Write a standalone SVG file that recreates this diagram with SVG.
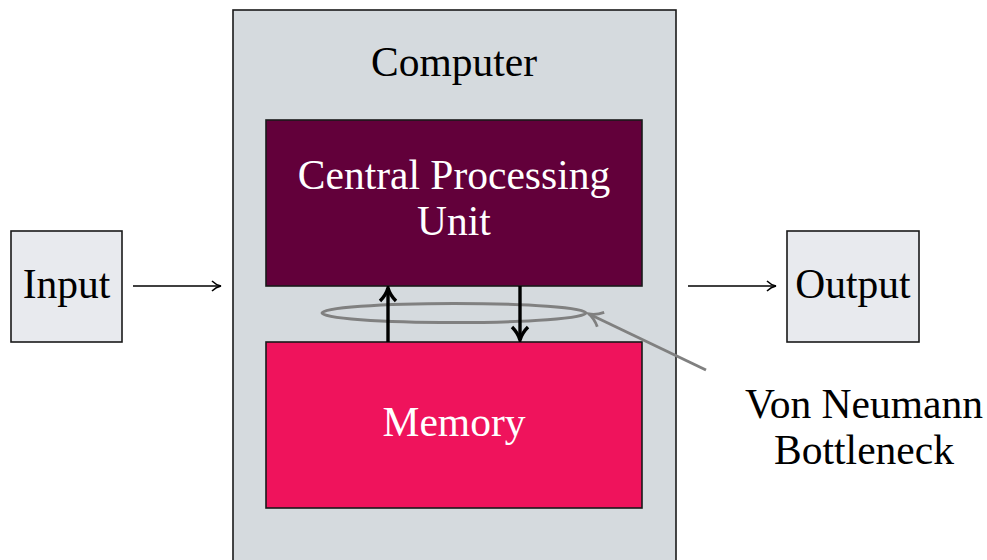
<svg xmlns="http://www.w3.org/2000/svg" width="987" height="560" viewBox="0 0 987 560">
<defs>
<style>
text{font-family:"Liberation Serif","DejaVu Serif",serif;font-size:41.5px;text-anchor:middle}
.box{stroke:#1a1a1a;stroke-width:1.6}
.thin{stroke:#000;stroke-width:1.6;fill:none}
.bus{stroke:#000;stroke-width:3.4;fill:none}
.gray{stroke:#808080;stroke-width:3;fill:none}
</style>
<marker id="a" viewBox="0 0 12 12" refX="11" refY="6" markerWidth="12" markerHeight="12" markerUnits="userSpaceOnUse" orient="auto"><path d="M2,1 Q6,5 11,6 Q6,7 2,11" fill="none" stroke="#000" stroke-width="1.5"/></marker>
<marker id="b" viewBox="0 0 20 20" refX="18" refY="10" markerWidth="20" markerHeight="20" markerUnits="userSpaceOnUse" orient="auto"><path d="M5,2 Q11,8 18,10 Q11,12 5,18" fill="none" stroke="#000" stroke-width="3.4"/></marker>
<marker id="c" viewBox="0 0 20 20" refX="18" refY="10" markerWidth="20" markerHeight="20" markerUnits="userSpaceOnUse" orient="auto"><path d="M5,2 Q11,8 18,10 Q11,12 5,18" fill="none" stroke="#808080" stroke-width="2.8"/></marker>
</defs>
<g id="computer"><rect class="box" x="233" y="10" width="443" height="560" fill="#d5dade"/><text x="454" y="76">Computer</text></g>
<g id="cpu"><rect class="box" x="266" y="120" width="376" height="166" fill="#62003a"/><text x="454" y="189" fill="#fff">Central Processing</text><text x="454" y="235" fill="#fff">Unit</text></g>
<g id="memory"><rect class="box" x="266" y="342" width="376" height="166" fill="#ef135c"/><text x="454" y="436" fill="#fff">Memory</text></g>
<g id="input"><rect class="box" x="11" y="231" width="111" height="111" fill="#e8eaee"/><text x="66.5" y="298">Input</text></g>
<g id="output"><rect class="box" x="787" y="231" width="132" height="111" fill="#e8eaee"/><text x="853" y="298">Output</text></g>
<g id="bottleneck"><ellipse class="gray" cx="454" cy="313" rx="132" ry="9.5"/><text x="864" y="418">Von Neumann</text><text x="864" y="464">Bottleneck</text></g>
<g id="connectors">
<line class="thin" x1="133" y1="286" x2="221" y2="286" marker-end="url(#a)"/>
<line class="thin" x1="688" y1="286" x2="776" y2="286" marker-end="url(#a)"/>
<line class="bus" x1="388" y1="342" x2="388" y2="288" marker-end="url(#b)"/>
<line class="bus" x1="520" y1="286" x2="520" y2="340" marker-end="url(#b)"/>
<line class="gray" x1="706" y1="370" x2="589" y2="314" marker-end="url(#c)"/>
</g>
</svg>
